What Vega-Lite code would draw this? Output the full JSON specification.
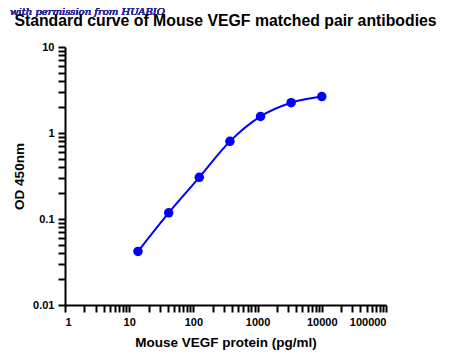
{
  "$schema": "https://vega.github.io/schema/vega-lite/v6.json",
  "width": 321,
  "height": 258,
  "autosize": {"type": "none"},
  "padding": {"left": 65, "top": 47, "right": 64, "bottom": 56},
  "background": "white",
  "title": {
    "text": "Standard curve of Mouse VEGF matched pair antibodies",
    "font": "Liberation Sans",
    "fontSize": 15.8,
    "fontWeight": "bold",
    "color": "black",
    "anchor": "middle",
    "frame": "group",
    "baseline": "alphabetic",
    "offset": -35
  },
  "config": {
    "view": {"stroke": null},
    "axis": {
      "grid": false,
      "domainColor": "black",
      "domainWidth": 2,
      "tickColor": "black",
      "tickWidth": 2,
      "labelFont": "Liberation Sans",
      "labelFontWeight": "bold",
      "labelFontSize": 11,
      "labelColor": "black",
      "labelOverlap": false,
      "labelPadding": 4,
      "titleFont": "Liberation Sans",
      "titleFontWeight": "bold",
      "titleFontSize": 13.5,
      "titleColor": "black"
    }
  },
  "data": {
    "values": [
      {"conc": 13.7, "od": 0.042},
      {"conc": 41.2, "od": 0.118},
      {"conc": 123.5, "od": 0.305},
      {"conc": 370.4, "od": 0.8},
      {"conc": 1111, "od": 1.56},
      {"conc": 3333, "od": 2.25},
      {"conc": 10000, "od": 2.65}
    ]
  },
  "layer": [
    {
      "mark": {"type": "line", "interpolate": "monotone", "color": "#0000ff", "strokeWidth": 2},
      "encoding": {
        "x": {
          "field": "conc", "type": "quantitative",
          "scale": {"type": "log", "domain": [1, 100000], "nice": false},
          "axis": {
            "orient": "bottom",
            "tickCount": 100,
            "values": [1,2,3,4,5,6,7,8,9,10,20,30,40,50,60,70,80,90,100,200,300,400,500,600,700,800,900,1000,2000,3000,4000,5000,6000,7000,8000,9000,10000,20000,30000,40000,50000,60000,70000,80000,90000,100000],
            "format": "~g",
            "labelExpr": "abs(log(datum.value)/LN10 - round(log(datum.value)/LN10)) < 0.000001 ? datum.label : ''",
            "tickSize": 7,
            "encode": {"ticks": {"update": {"y2": {"signal": "abs(log(datum.value)/LN10 - round(log(datum.value)/LN10)) < 0.000001 ? 7 : 3.5"}}}},
            "title": "Mouse VEGF protein (pg/ml)", "titlePadding": 8
          }
        },
        "y": {
          "field": "od", "type": "quantitative",
          "scale": {"type": "log", "domain": [0.01, 10], "nice": false},
          "axis": {
            "orient": "left",
            "tickCount": 100,
            "values": [0.01,0.02,0.03,0.04,0.05,0.06,0.07,0.08,0.09,0.1,0.2,0.3,0.4,0.5,0.6,0.7,0.8,0.9,1,2,3,4,5,6,7,8,9,10],
            "format": "~g",
            "labelExpr": "abs(log(datum.value)/LN10 - round(log(datum.value)/LN10)) < 0.000001 ? datum.label : ''",
            "tickSize": 7,
            "encode": {"ticks": {"update": {"x2": {"signal": "abs(log(datum.value)/LN10 - round(log(datum.value)/LN10)) < 0.000001 ? -7 : -3.5"}}}},
            "title": "OD 450nm", "titlePadding": 6
          }
        }
      }
    },
    {
      "mark": {"type": "point", "filled": true, "size": 90, "color": "#0000ff", "opacity": 1},
      "encoding": {
        "x": {"field": "conc", "type": "quantitative"},
        "y": {"field": "od", "type": "quantitative"}
      }
    },
    {
      "mark": {"type": "text", "text": "with permission from HUABIO", "font": "DejaVu Serif", "fontStyle": "italic", "fontSize": 10, "color": "#2a2a9a", "align": "left", "baseline": "middle"},
      "encoding": {
        "x": {"datum": 0.139, "type": "quantitative"},
        "y": {"datum": 25.5, "type": "quantitative"}
      }
    }
  ]
}
